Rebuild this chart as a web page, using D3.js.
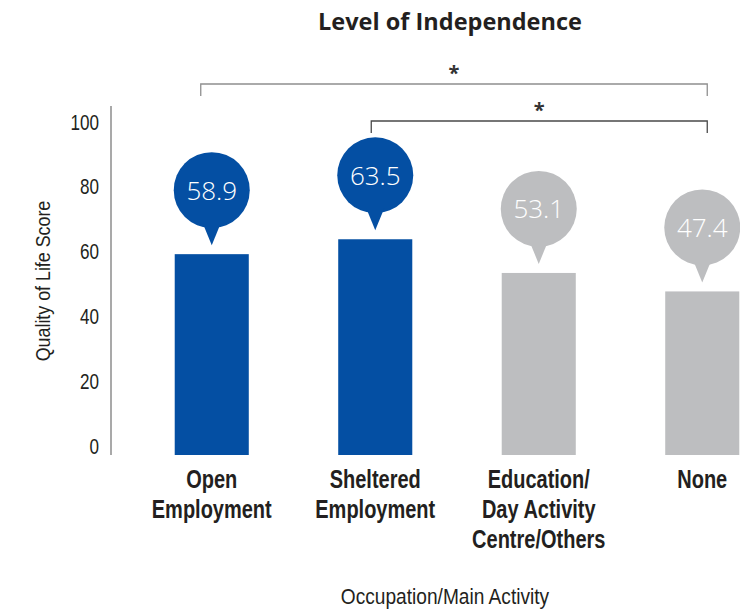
<!DOCTYPE html>
<html>
<head>
<meta charset="utf-8">
<script src="https://cdn.jsdelivr.net/npm/d3@7/dist/d3.min.js"></script>
<style>
  html, body { margin: 0; padding: 0; background: #fff; }
  svg { display: block; }
  .cond { font-family: "Liberation Sans", Arial, sans-serif; }
</style>
</head>
<body>
<svg id="chart" width="740" height="611"></svg>
<script>
// Quality of life score by occupation / main activity
const categories = [
  ["Open", "Employment"],
  ["Sheltered", "Employment"],
  ["Education/", "Day Activity", "Centre/Others"],
  ["None"]
];
const scores = [58.9, 63.5, 53.1, 47.4];
const highlighted = [true, true, false, false];
const yTicks = [0, 20, 40, 60, 80, 100];
// significance brackets: [from index, to index, marker]
const comparisons = [
  [0, 3, "*"],
  [1, 3, "*"]
];

const svg = d3.select("#chart");
const keys = categories.map((c, i) => i);

const x = d3.scaleBand()
  .domain(keys)
  .range([130, 784])
  .paddingInner(0.547)
  .paddingOuter(0.2735);

const y = d3.scaleLinear()
  .domain([0, 100])
  .range([445, 121]);
const baseY = 455;

const blue = "#044fa3";
const grey = "#bdbec0";
const ink = "#231f20";
const narrow = 0.8;   // horizontal squeeze for the condensed label face

// title
svg.append("text")
  .attr("x", 450).attr("y", 30)
  .attr("text-anchor", "middle")
  .attr("font-family", "'Open Sans', sans-serif")
  .attr("font-weight", 700)
  .attr("font-size", 23.5)
  .attr("fill", ink)
  .text("Level of Independence");

// y axis
const yAxis = d3.axisLeft(y).tickValues(yTicks).tickSize(0).tickPadding(12);
const gy = svg.append("g")
  .attr("transform", "translate(111,0)")
  .call(yAxis);
gy.select(".domain").remove();
gy.append("line")
  .attr("x1", 0).attr("x2", 0)
  .attr("y1", 106).attr("y2", baseY)
  .attr("stroke", "#8c8c8c").attr("stroke-width", 1.5);
gy.selectAll(".tick text")
  .attr("class", "cond")
  .attr("font-size", 22.5)
  .attr("fill", ink)
  .attr("x", -12 / 0.76)
  .attr("dy", "0.36em")
  .attr("transform", "scale(0.76,1)");

svg.append("text")
  .attr("class", "cond")
  .attr("transform", `translate(50,281) rotate(-90) scale(0.85,1)`)
  .attr("text-anchor", "middle")
  .attr("font-size", 21)
  .attr("fill", ink)
  .text("Quality of Life Score");

// bars
svg.selectAll("rect.bar")
  .data(scores)
  .join("rect")
  .attr("class", "bar")
  .attr("x", (d, i) => x(i))
  .attr("width", x.bandwidth())
  .attr("y", d => y(d))
  .attr("height", d => baseY - y(d))
  .attr("fill", (d, i) => highlighted[i] ? blue : grey);

// value callouts
const r = 38;
const lift = 64;
const callouts = svg.selectAll("g.callout")
  .data(scores)
  .join("g")
  .attr("class", "callout")
  .attr("transform", (d, i) => `translate(${x(i) + x.bandwidth() / 2},${y(d) - lift})`);

callouts.append("circle")
  .attr("r", r)
  .attr("fill", (d, i) => highlighted[i] ? blue : grey);
callouts.append("path")
  .attr("d", `M${-9},${r - 5} L9,${r - 5} L0,${lift - 9} Z`)
  .attr("fill", (d, i) => highlighted[i] ? blue : grey);
callouts.append("text")
  .attr("text-anchor", "middle")
  .attr("dy", "0.36em")
  .attr("font-family", "'Open Sans', sans-serif")
  .attr("font-weight", 300)
  .attr("font-size", 26)
  .attr("fill", "#fff")
  .text(d => d.toFixed(1));

// category labels
const labels = svg.selectAll("text.cat")
  .data(categories)
  .join("text")
  .attr("class", "cat cond")
  .attr("text-anchor", "middle")
  .attr("font-weight", 700)
  .attr("font-size", 25)
  .attr("fill", ink)
  .attr("transform", (d, i) => `translate(${x(i) + x.bandwidth() / 2},488) scale(${narrow},1)`);
labels.selectAll("tspan")
  .data(d => d)
  .join("tspan")
  .attr("x", 0)
  .attr("y", (d, j) => j * 30)
  .text(d => d);

svg.append("text")
  .attr("class", "cond")
  .attr("transform", "translate(445,604) scale(0.85,1)")
  .attr("text-anchor", "middle")
  .attr("font-size", 22.5)
  .attr("fill", ink)
  .text("Occupation/Main Activity");

// significance brackets
const bracketY = [84, 121];
const drop = 12;
comparisons.forEach(([a, b, mark], k) => {
  const x1 = x(a) + x.bandwidth() / 2 - (k === 0 ? 11 : 4);
  const x2 = x(b) + x.bandwidth() / 2 + 5;
  const yb = bracketY[k];
  svg.append("path")
    .attr("d", `M${x1},${yb + drop} V${yb} H${x2} V${yb + drop}`)
    .attr("fill", "none")
    .attr("stroke", k === 0 ? "#8f8f8f" : "#4a4a4a")
    .attr("stroke-width", 1.3);
  svg.append("text")
    .attr("x", (x1 + x2) / 2)
    .attr("y", yb - 4)
    .attr("text-anchor", "middle")
    .attr("font-family", "'Open Sans', sans-serif")
    .attr("font-weight", 700)
    .attr("font-size", 20)
    .attr("fill", "#333")
    .text(mark);
});
</script>
</body>
</html>
